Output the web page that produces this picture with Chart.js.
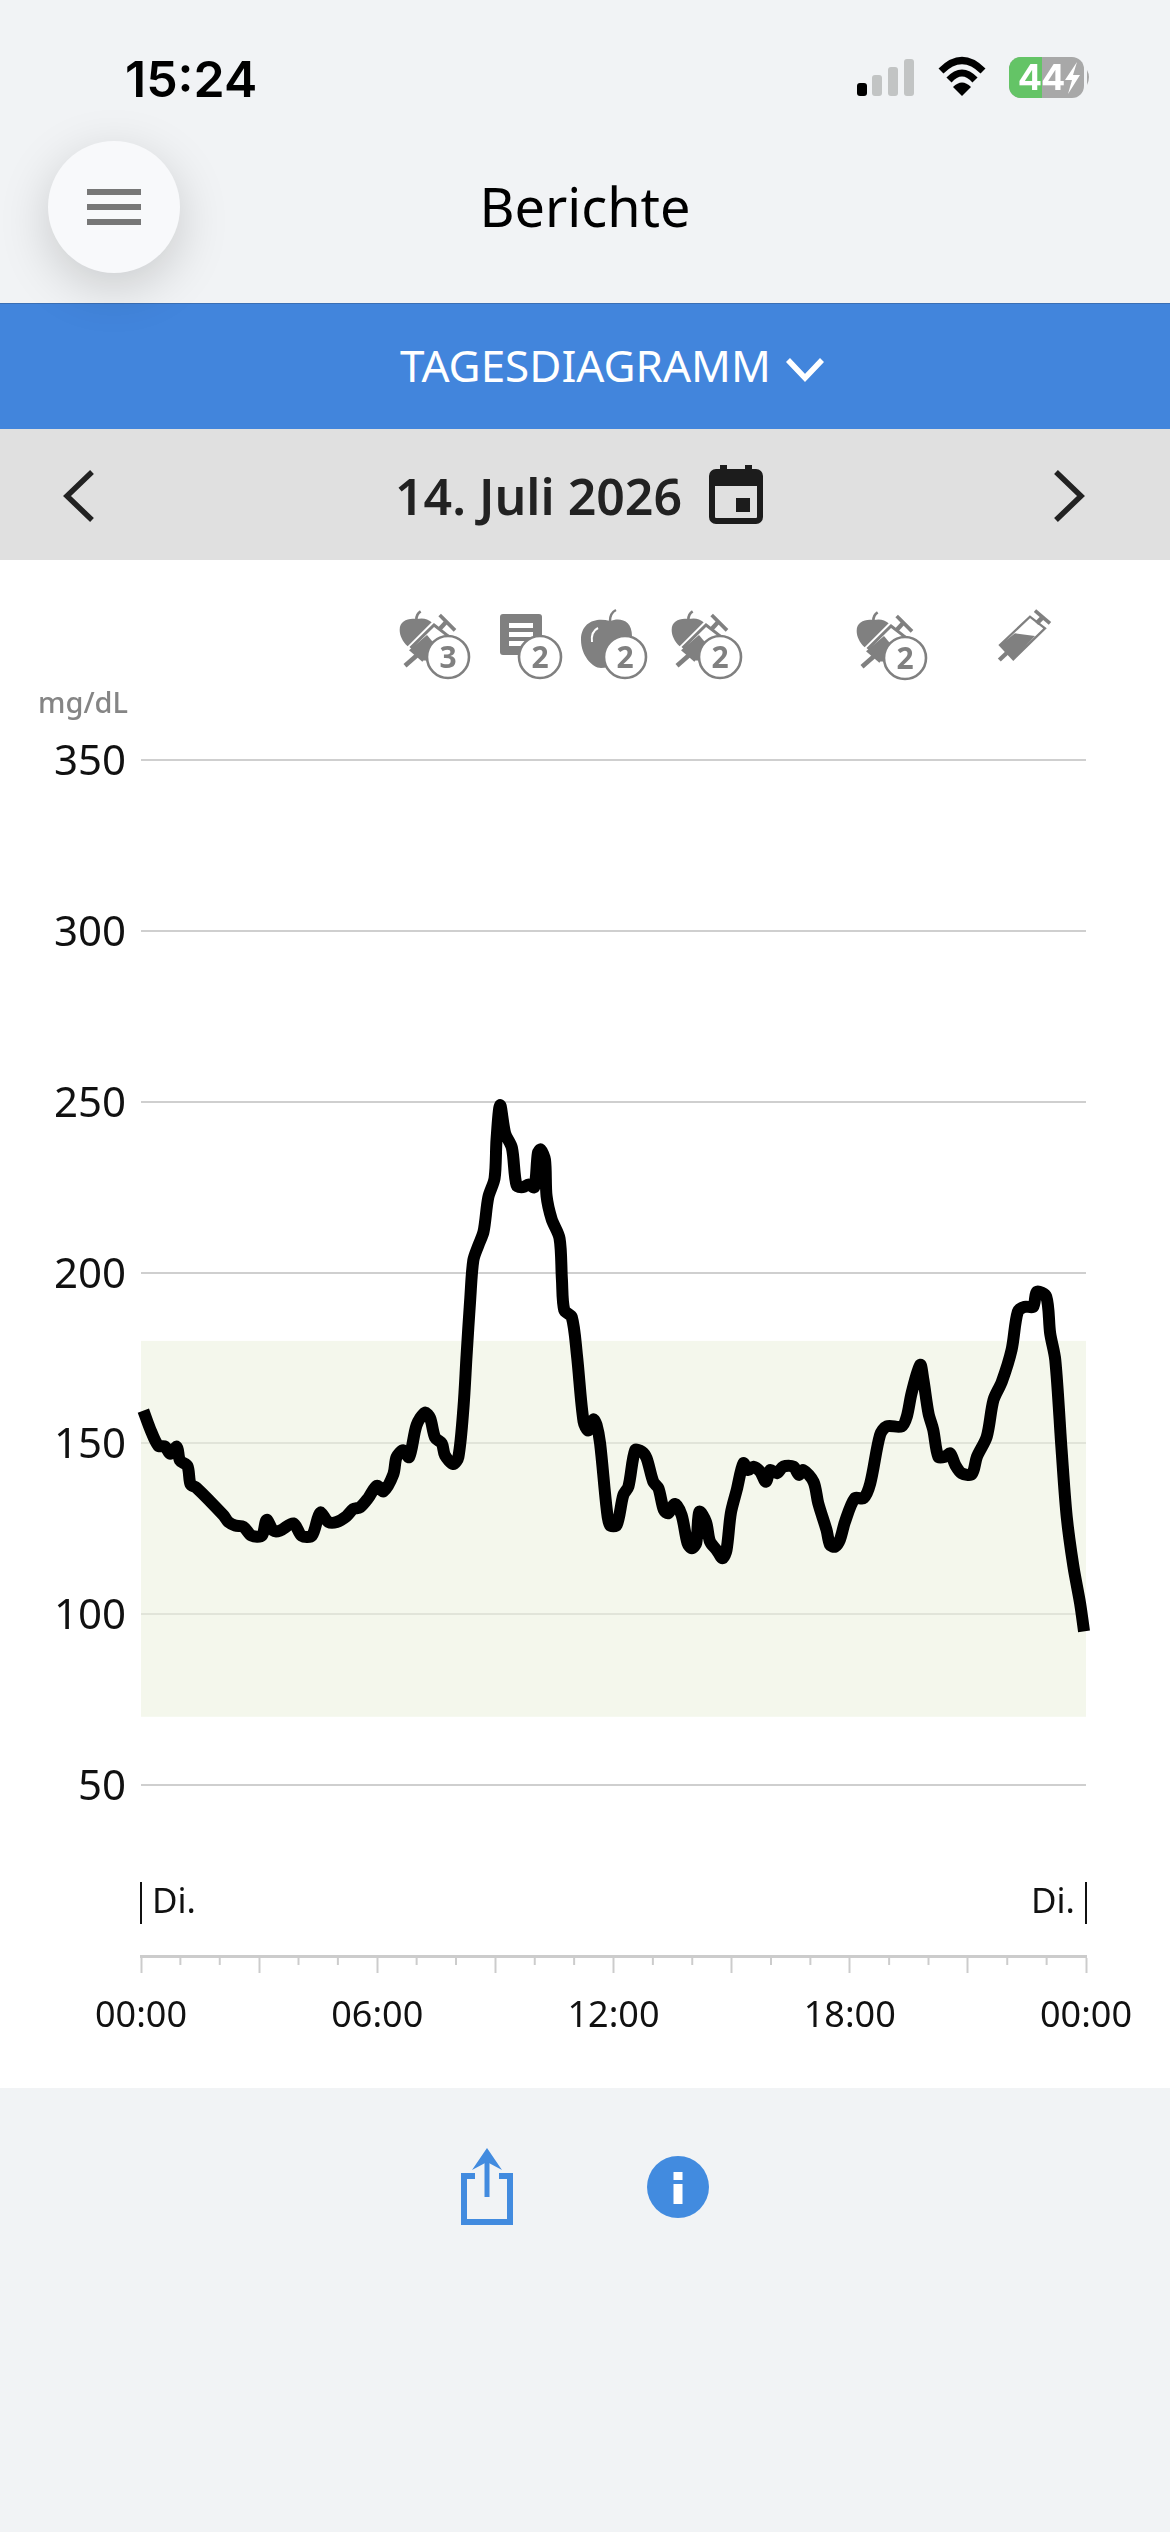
<!DOCTYPE html>
<html lang="de">
<head>
<meta charset="utf-8">
<title>Berichte</title>
<script src="https://cdn.jsdelivr.net/npm/chart.js@4/dist/chart.umd.min.js"></script>
<style>
  html, body { margin: 0; padding: 0; }
  body { width: 1170px; height: 2532px; background: #f1f3f5; position: relative; overflow: hidden; font-family: "Noto Sans", sans-serif; color: #000; }
  .abs { position: absolute; white-space: nowrap; line-height: 1; }
  #blue { position: absolute; left: 0; top: 303px; width: 1170px; height: 126px; background: #4285dc; border-top: 1px solid #3a6fb5; box-sizing: border-box; }
  #datebar { position: absolute; left: 0; top: 429px; width: 1170px; height: 131px; background: #e0e0e0; }
  #white { position: absolute; left: 0; top: 560px; width: 1170px; height: 1528px; background: #fff; }
  #chart { position: absolute; left: 0; top: 560px; }
  #menu { position: absolute; left: 48px; top: 141px; width: 132px; height: 132px; border-radius: 50%; background: #f8f9fb; box-shadow: 0 14px 50px rgba(0,0,0,.17); }
  #menu i { position: absolute; left: 39px; width: 54px; height: 6px; background: #777; }
  #overlay { position: absolute; left: 0; top: 0; }
  .day { font-size: 35px; color: #111; }
  .mark { position: absolute; top: 1882px; width: 2px; height: 42px; background: #111; }
</style>
</head>
<body>
<div id="blue"></div>
<div id="datebar"></div>
<div id="white"></div>
<canvas id="chart" width="1170" height="1528"></canvas>

<div class="abs" style="left:125px;top:49px;font:600 50px Inter,sans-serif;">15:24</div>
<div id="menu"><i style="top:48px"></i><i style="top:63px"></i><i style="top:78px"></i></div>
<div class="abs" style="left:0;width:1170px;text-align:center;top:179px;font-size:54px;">Berichte</div>
<div class="abs" style="left:400px;top:343px;font-size:44px;color:#fff;">TAGESDIAGRAMM</div>
<div class="abs" style="left:395px;top:471px;font-size:50px;font-weight:600;color:#222;">14. Juli 2026</div>
<div class="abs" style="left:38px;top:687px;font-size:29px;font-weight:500;color:#858585;">mg/dL</div>

<div class="mark" style="left:140px"></div>
<div class="abs day" style="left:152px;top:1882px;">Di.</div>
<div class="abs day" style="right:95px;top:1882px;">Di.</div>
<div class="mark" style="left:1085px"></div>

<svg id="overlay" width="1170" height="2532" viewBox="0 0 1170 2532">
  <defs>
    <g id="badge-ring">
      <circle cx="0" cy="0" r="21" fill="#fff" stroke="#808080" stroke-width="2.6"/>
    </g>
    <!-- apfel + spritze, origin is the badge centre, units are 3x px -->
    <g id="combo" transform="scale(.3333)">
      <g transform="translate(-175,-170)">
        <path d="M30 88C30 62 55 52 80 56C98 52 114 54 126 66L54 138C38 122 30 106 30 88Z" fill="#808080"/>
        <path d="M80 58C80 45 85 38 93 33" stroke="#808080" stroke-width="8" fill="none"/>
        <path d="M133 74L174 106L106 176L66 140Z" stroke="#808080" stroke-width="9" fill="none"/>
        <path d="M58 150L112 104L142 140L98 184Z" fill="#808080"/>
        <path d="M82 165L46 196" stroke="#808080" stroke-width="14" fill="none"/>
        <path d="M148 88L172 62" stroke="#808080" stroke-width="13" fill="none"/>
        <path d="M150 44L196 90" stroke="#808080" stroke-width="11" fill="none"/>
      </g>
    </g>
  </defs>

  <!-- status bar -->
  <rect x="857" y="83" width="10" height="13" rx="3" fill="#000"/>
  <rect x="872" y="75" width="10" height="21" rx="3" fill="#c2c4c4"/>
  <rect x="888" y="67" width="10" height="29" rx="3" fill="#c2c4c4"/>
  <rect x="904" y="59" width="10" height="37" rx="3" fill="#c2c4c4"/>
  <path d="M941 71Q962 50 983 71" stroke="#000" stroke-width="7" fill="none"/>
  <path d="M949 80Q962 66 975 80" stroke="#000" stroke-width="7" fill="none"/>
  <path d="M962 96L953 87Q962 78 971 87Z" fill="#000"/>
  <rect x="1009" y="57" width="75" height="41" rx="12" fill="#a8a8a8"/>
  <path d="M1021 57H1042V98H1021A12 12 0 0 1 1009 86V69A12 12 0 0 1 1021 57Z" fill="#64c466"/>
  <path d="M1087 70Q1091 77 1087 85Z" fill="#a8a8a8"/>
  <text x="1042" y="90" text-anchor="end" font-family="Inter" font-weight="700" font-size="36" fill="#fff">4</text>
  <text x="1042" y="90" font-family="Inter" font-weight="700" font-size="36" fill="#fff" dx="-1">4</text>
  <path d="M1077 62L1065 80H1072L1068 94L1080 75H1073Z" fill="#fff"/>

  <!-- dropdown + date chevrons -->
  <path d="M788 360L805 378L822 360" stroke="#fff" stroke-width="5.5" fill="none"/>
  <path d="M92 472L67 496L92 520" stroke="#222" stroke-width="5.5" fill="none"/>
  <path d="M1056 472L1081 496L1056 520" stroke="#222" stroke-width="5.5" fill="none"/>
  <rect x="712" y="472" width="48" height="49" rx="4" fill="none" stroke="#1c1c1c" stroke-width="6"/>
  <rect x="712" y="472" width="48" height="14" fill="#1c1c1c"/>
  <rect x="720" y="465" width="7" height="12" fill="#1c1c1c"/>
  <rect x="745" y="465" width="7" height="12" fill="#1c1c1c"/>
  <rect x="736" y="498" width="14" height="14" fill="#1c1c1c"/>

  <!-- event icons -->
  <use href="#combo" x="448" y="657"/>
  <use href="#badge-ring" x="448" y="657"/>
  <text x="448" y="668" text-anchor="middle" font-family="Noto Sans" font-weight="700" font-size="30" fill="#808080">3</text>

  <rect x="500" y="614" width="42" height="41" rx="3" fill="#808080"/>
  <rect x="509" y="623" width="24" height="5" fill="#fff"/>
  <rect x="509" y="632" width="24" height="5" fill="#fff"/>
  <rect x="509" y="641" width="24" height="5" fill="#fff"/>
  <use href="#badge-ring" x="540" y="657"/>
  <text x="540" y="668" text-anchor="middle" font-family="Noto Sans" font-weight="700" font-size="30" fill="#808080">2</text>

  <path d="M610 621C596 617 581 622 581 640C581 655 592 668 601 668C606 668 609 666 612 666C620 666 632 650 632 636C632 620 620 617 610 621Z" fill="#808080"/>
  <path d="M610 621C610 615 612 612 616 610" stroke="#808080" stroke-width="2.5" fill="none"/>
  <path d="M592 642C591 634 594 630 598 628" stroke="#fff" stroke-width="2" fill="none"/>
  <use href="#badge-ring" x="625" y="657"/>
  <text x="625" y="668" text-anchor="middle" font-family="Noto Sans" font-weight="700" font-size="30" fill="#808080">2</text>

  <use href="#combo" x="720" y="657"/>
  <use href="#badge-ring" x="720" y="657"/>
  <text x="720" y="668" text-anchor="middle" font-family="Noto Sans" font-weight="700" font-size="30" fill="#808080">2</text>

  <use href="#combo" x="905" y="658"/>
  <use href="#badge-ring" x="905" y="658"/>
  <text x="905" y="669" text-anchor="middle" font-family="Noto Sans" font-weight="700" font-size="30" fill="#808080">2</text>

  <!-- spritze -->
  <g transform="translate(840,600) scale(.3333)">
    <path d="M480 135L570 50L615 85L520 178Z" fill="none" stroke="#808080" stroke-width="7"/>
    <path d="M480 135L525 100L585 108L520 178Z" fill="#808080"/>
    <path d="M510 150L478 180" stroke="#808080" stroke-width="13"/>
    <path d="M590 70L610 50" stroke="#808080" stroke-width="14"/>
    <path d="M585 32L630 70" stroke="#808080" stroke-width="11"/>
  </g>

  <!-- bottom -->
  <path d="M475 2176H464V2222H510V2176H499" fill="none" stroke="#428bdf" stroke-width="6"/>
  <path d="M487 2197V2158" stroke="#428bdf" stroke-width="5"/>
  <path d="M487 2148L502 2170L487 2162L472 2170Z" fill="#428bdf"/>
  <circle cx="678" cy="2187" r="31" fill="#428bdf"/>
  <rect x="673.5" y="2172" width="9" height="8" fill="#fff"/>
  <rect x="673.5" y="2184" width="9" height="20" fill="#fff"/>
</svg>

<script>
const readingHours = [0.06,0.23,0.44,0.61,0.74,0.91,0.99,1.18,1.26,1.41,2.09,2.22,2.39,2.6,2.81,3.07,3.19,3.36,3.53,3.87,4.08,4.34,4.55,4.76,4.97,5.22,5.39,5.56,5.77,5.99,6.16,6.41,6.49,6.66,6.81,7.0,7.21,7.34,7.47,7.64,7.72,7.93,8.06,8.19,8.27,8.36,8.44,8.57,8.7,8.82,8.98,9.03,9.12,9.25,9.42,9.54,9.71,9.84,9.99,10.08,10.15,10.26,10.3,10.43,10.63,10.69,10.75,10.94,11.07,11.24,11.36,11.49,11.57,11.66,11.83,11.91,12.08,12.25,12.38,12.55,12.72,12.84,13.01,13.14,13.28,13.39,13.56,13.73,13.88,13.99,14.1,14.18,14.35,14.45,14.62,14.77,14.87,14.98,15.13,15.3,15.42,15.55,15.72,15.87,15.98,16.15,16.31,16.57,16.71,16.82,17.08,17.2,17.41,17.5,17.63,17.75,17.88,18.13,18.35,18.52,18.77,18.94,19.32,19.45,19.57,19.79,19.87,20.0,20.12,20.25,20.42,20.55,20.68,20.84,21.1,21.23,21.48,21.65,21.86,22.11,22.27,22.45,22.66,22.75,22.99,23.09,23.22,23.38,23.51,23.68,23.85,23.95];
const glucoseValues = [159.6,154.3,149.3,149.1,147,149,145,143.4,138,137,129,127,126,125.6,123,123,127.6,124.5,124.5,126.6,123,123,129.7,127,127,128.7,130.8,131.3,134,137.6,136,141,146,148,146,155.4,159,157.5,151.7,150,146.5,144,146,160.6,176,192,203.6,208,212,222,227.6,239,249,240.7,236.5,225.5,225,225.8,225,235,236,233,222.4,215.6,210,198,189,187,176,156.4,153.8,157,155.4,150,130.5,126.1,126.1,134.9,137.4,148,147.6,145.7,138.8,136.9,130.5,129.6,132.3,129,120.8,119.3,120.8,130,127,121.3,118.8,116.4,118.8,129.6,136.4,144.2,142.2,143.2,141.8,138.8,142.2,141.3,143.2,143.2,140.8,142.2,138.8,132.5,124.7,120.3,119.8,121.8,127.1,134,134,138.3,152.5,155,155,157.9,164.7,173,168.6,158.8,154,146.1,146.1,147.1,143.7,141.3,141,146.1,152,162.7,168,177.4,188.6,190,190,194.4,193,182.2,174.4,148.1,128.6,114,103.2,95];
const yTickValues = [50, 100, 150, 200, 250, 300, 350];
const xLabelHours = [0, 6, 12, 18, 24];
const xLabelTexts = ["00:00", "06:00", "12:00", "18:00", "00:00"];
const minorTickHours = [1, 2, 4, 5, 7, 8, 10, 11, 13, 14, 16, 17, 19, 20, 22, 23];
const rangeLow = 70;
const rangeHigh = 180;

// Zielbereich, liegt ueber dem Gitter aber unter der Kurve
const targetBand = {
  id: "targetBand",
  beforeDatasetsDraw(chart) {
    const { ctx, chartArea, scales } = chart;
    const top = scales.y.getPixelForValue(rangeHigh);
    const bottom = scales.y.getPixelForValue(rangeLow);
    ctx.save();
    ctx.fillStyle = "rgba(237,242,224,.61)";
    ctx.fillRect(chartArea.left, top, chartArea.right - chartArea.left, bottom - top);
    ctx.restore();
  },
};

// kurze Stundenstriche, Chart.js kennt nur eine Tick-Laenge pro Achse
const minorTicks = {
  id: "minorTicks",
  afterDraw(chart) {
    const { ctx, chartArea, scales } = chart;
    ctx.save();
    ctx.strokeStyle = "#cccccc";
    ctx.lineWidth = 2;
    minorTickHours.forEach((h) => {
      const x = scales.x.getPixelForValue(h);
      ctx.beginPath();
      ctx.moveTo(x, chartArea.bottom);
      ctx.lineTo(x, chartArea.bottom + 9);
      ctx.stroke();
    });
    ctx.restore();
  },
};

new Chart(document.getElementById("chart"), {
  type: "line",
  data: {
    datasets: [
      {
        data: readingHours.map((h, i) => ({ x: h, y: glucoseValues[i] })),
        borderColor: "#000",
        borderWidth: 12,
        borderCapStyle: "butt",
        borderJoinStyle: "round",
        pointRadius: 0,
        tension: 0.3,
        clip: false,
      },
    ],
  },
  options: {
    responsive: false,
    devicePixelRatio: 1,
    animation: false,
    layout: { padding: { top: 200, right: 84 } },
    plugins: { legend: { display: false }, tooltip: { enabled: false } },
    scales: {
      x: {
        type: "linear",
        min: 0,
        max: 24,
        afterFit: (s) => { s.height = 132; },
        afterBuildTicks: (s) => { s.ticks = [0,3,6,9,12,15,18,21,24].map((v) => ({ value: v })); },
        border: { color: "#cccccc", width: 3 },
        grid: { drawOnChartArea: false, tickLength: 17, tickColor: "#cccccc", tickWidth: 2 },
        ticks: {
          autoSkip: false,
          maxRotation: 0,
          padding: 22,
          color: "#111",
          font: { family: "Noto Sans", size: 36 },
          callback: (v) => {
            const i = xLabelHours.indexOf(v);
            return i >= 0 ? xLabelTexts[i] : "";
          },
        },
      },
      y: {
        min: 0,
        max: 350,
        afterFit: (s) => { s.width = 141; },
        afterBuildTicks: (s) => { s.ticks = [0].concat(yTickValues).map((v) => ({ value: v })); },
        border: { display: false },
        grid: { color: "#cfcfcf", lineWidth: 2, drawTicks: false },
        ticks: {
          padding: 15,
          color: "#111",
          // leere erste Zeile + kleine lineHeight schiebt die Zahl 3px nach unten
          font: { family: "Noto Sans", size: 42, lineHeight: "6px" },
          callback: (v) => (v === 0 ? "" : ["", String(v)]),
        },
      },
    },
  },
  plugins: [targetBand, minorTicks],
});
</script>
</body>
</html>
